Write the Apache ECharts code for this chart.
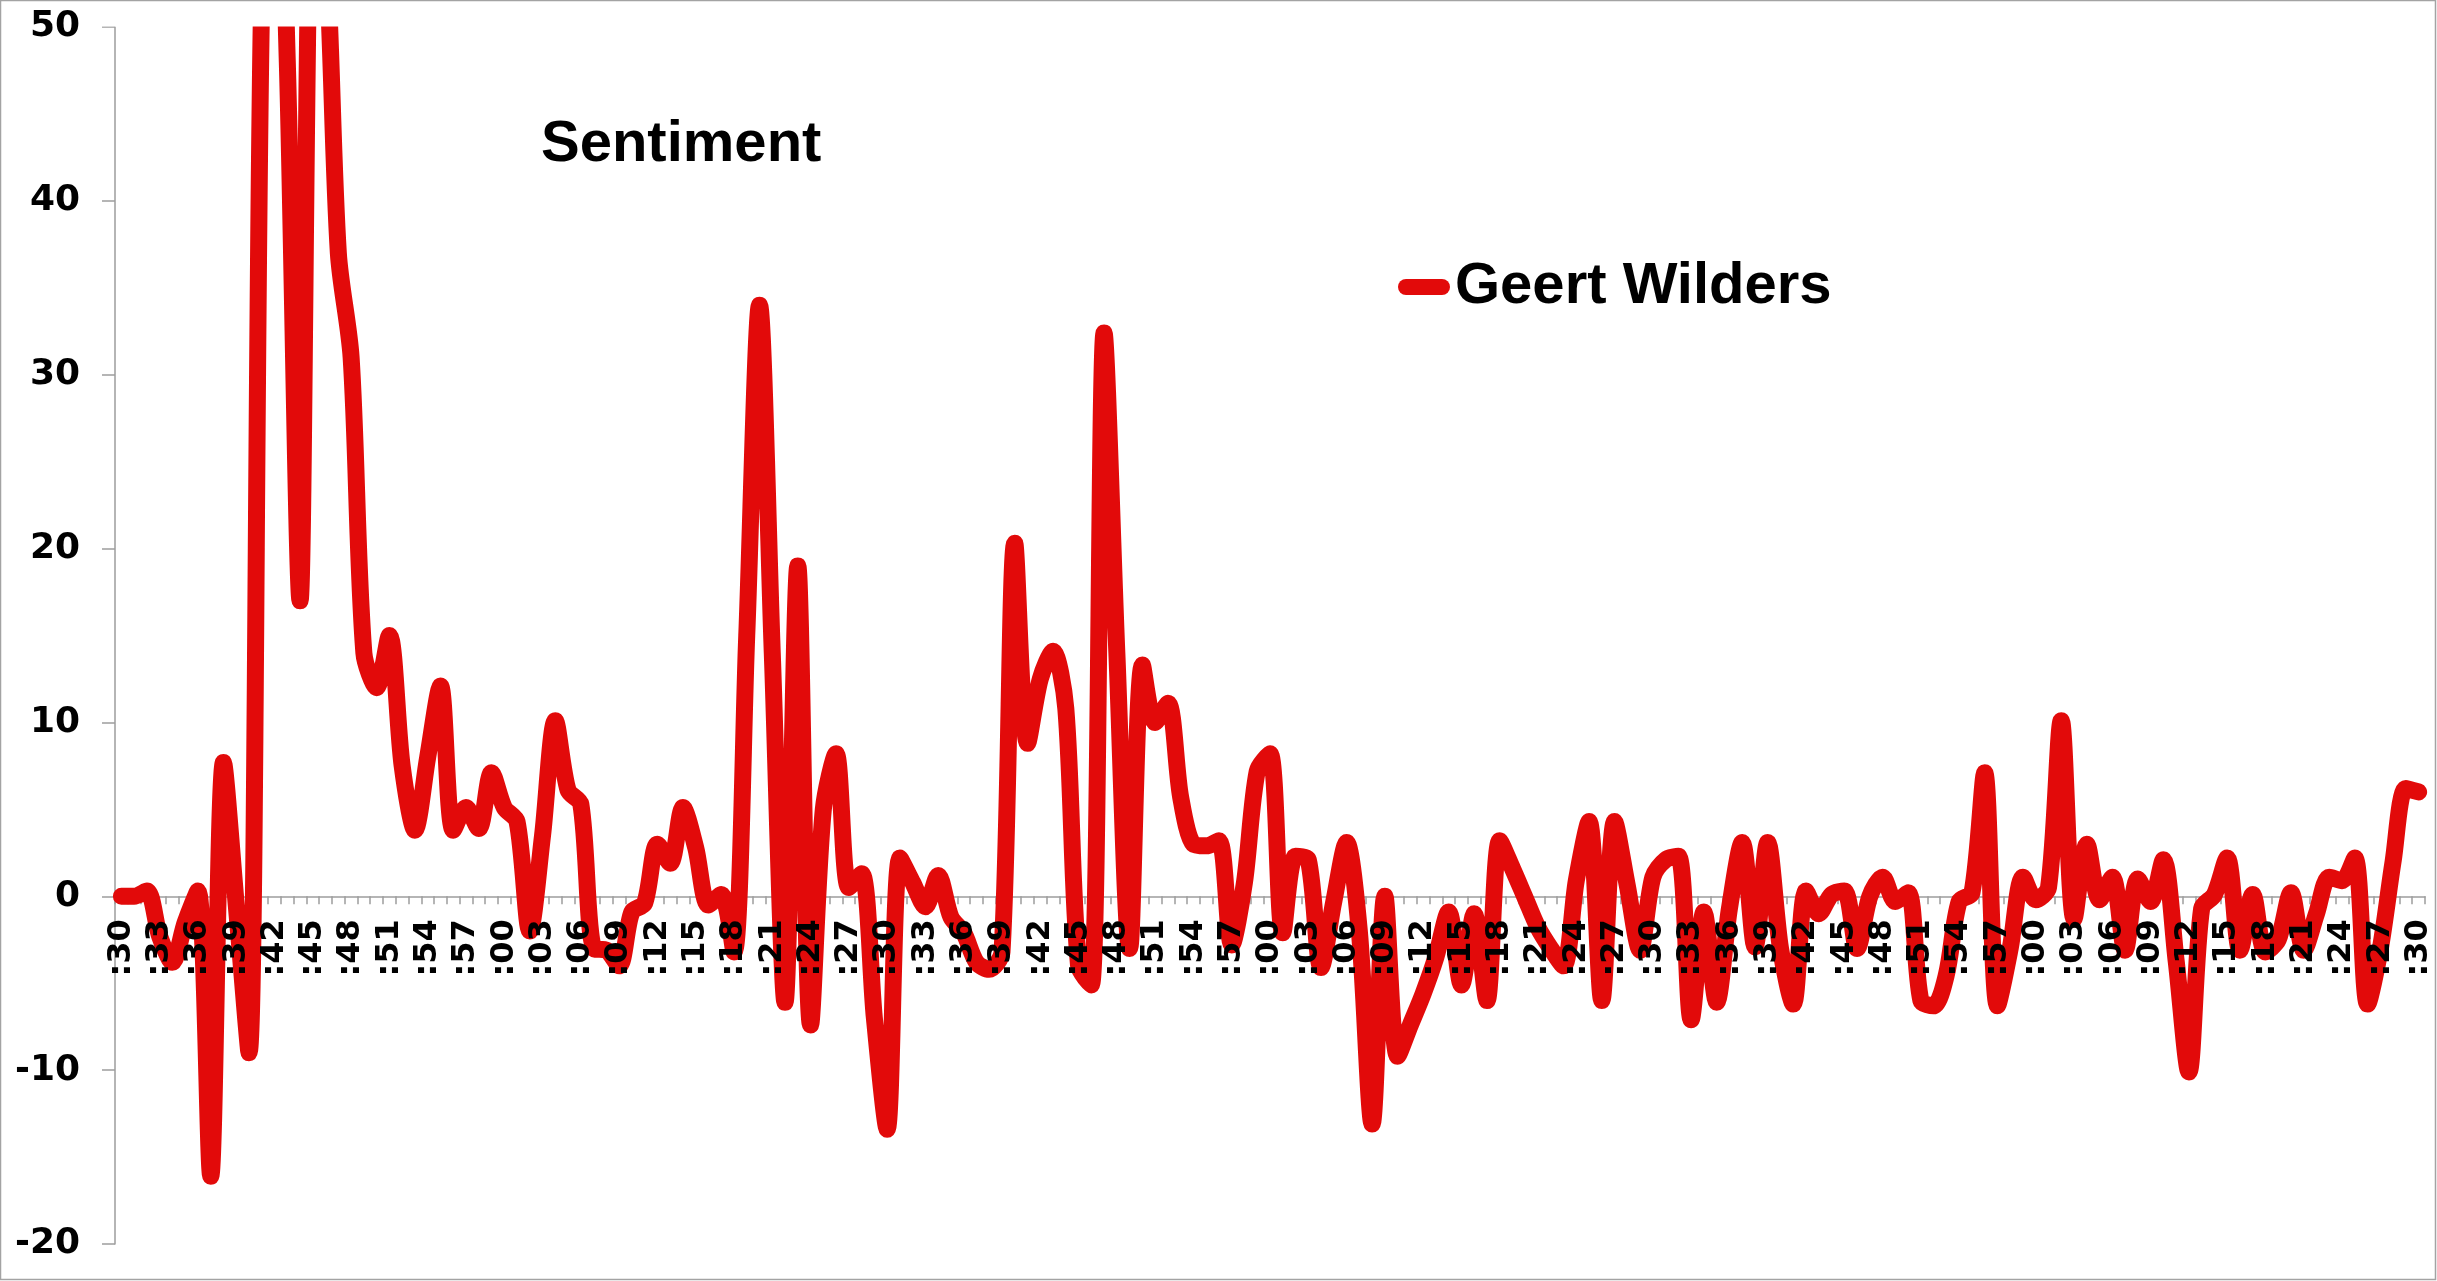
<!DOCTYPE html>
<html>
<head>
<meta charset="utf-8">
<script src="https://cdn.jsdelivr.net/npm/echarts@6/dist/echarts.min.js"></script>
<style>
html,body{margin:0;padding:0;background:#fff;}
#chart{width:2437px;height:1281px;}
</style>
</head>
<body>
<div id="chart"></div>
<script>
// ---- data ----
const titleText = 'Sentiment';
const seriesName = 'Geert Wilders';
const startMinute = 30;           // first category is ":30", one point per minute
const yMin = -20, yMax = 50, yStep = 10;

const sentiment = [
  0, 0, 0.3, -2.3, -3.8, -1.5, 0.3, -16.1, 7.7, -0.5,
  -9.0, 52, 68, 48, 17, 60, 55, 37, 31, 14,
  12, 15, 7.5, 3.8, 8.0, 12.1, 3.8, 5.1, 3.9, 7.1,
  5.1, 4.3, -2.0, 3.5, 10.1, 6.1, 5.3, -3.0, -3.1, -4.0,
  -0.9, -0.4, 3.0, 1.9, 5.1, 2.8, -0.5, 0.1, -3.2, 15,
  34.0, 14, -6.1, 19.0, -7.4, 5.0, 8.2, 0.5, 1.3, -7.0,
  -13.4, 2.2, 0.8, -0.6, 1.2, -1.2, -2.1, -3.8, -4.2, -3.2,
  20.3, 8.8, 12.5, 14.1, 10.8, -4.0, -5.1, 32.4, 14, -3.0,
  13.3, 10.0, 11.1, 5.7, 3.0, 2.9, 3.2, -2.8, 0.8, 7.2,
  8.2, -2.1, 2.3, 2.1, -4.1, -0.3, 3.1, -2.0, -13.1, 0.0,
  -9.2, -7.4, -5.6, -3.5, -0.9, -5.1, -1.0, -6.0, 3.2, 1.6,
  -0.1, -1.8, -3.0, -4.0, 0.9, 4.3, -6.0, 4.3, 0.6, -3.1,
  1.1, 2.1, 2.3, -7.1, -0.9, -6.1, -0.7, 3.1, -2.9, 3.1,
  -3.0, -6.2, 0.3, -1.0, 0.1, 0.3, -3.0, 0.0, 1.1, -0.3,
  0.2, -6.0, -6.3, -4.5, -0.3, 0.2, 7.1, -6.3, -3.0, 1.1,
  -0.2, 0.5, 10.1, -1.3, 3.0, -0.2, 1.1, -3.1, 1.0, -0.3,
  2.1, -3.7, -10.1, -0.7, 0.1, 2.2, -3.1, 0.1, -3.2, -2.5,
  0.2, -3.1, -1.0, 1.1, 0.9, 2.2, -6.2, -3.0, 2.0, 6.2,
  6.0
];

const categories = sentiment.map((_, i) => ':' + String((startMinute + i) % 60).padStart(2, '0'));

// ---- styling / layout ----
const RED = '#e20a0a';
const GREY = '#9d9d9d';
const FONT = '"Liberation Sans", Arial, sans-serif';
const AXIS_FONT = '"DejaVu Sans", sans-serif';
const GRID_TOP = 27, GRID_BOTTOM = 37, H = 1281;
const plotH = H - GRID_TOP - GRID_BOTTOM;
// the label axis sits at the bottom of the grid and is lifted to the zero line
const zeroLift = -plotH * (0 - yMin) / (yMax - yMin);

const chart = echarts.init(document.getElementById('chart'), null, {renderer: 'canvas'});

const option = {
  animation: false,
  backgroundColor: '#ffffff',
  title: {
    text: titleText,
    left: 541,
    top: 116,
    padding: 0,
    textStyle: {fontFamily: FONT, fontWeight: 'bold', fontSize: 58, color: '#000'}
  },
  legend: {
    data: [seriesName],
    left: 1398,
    top: 258,
    padding: 0,
    itemWidth: 52,
    itemHeight: 16,
    icon: 'path://M8 0H44A8 8 0 0 1 44 16H8A8 8 0 0 1 8 0Z',
    textStyle: {fontFamily: FONT, fontWeight: 'bold', fontSize: 58, color: '#000'}
  },
  grid: {left: 115, right: 12, top: GRID_TOP, bottom: GRID_BOTTOM, containLabel: false, outerBoundsMode: 'none'},
  xAxis: [
    {
      type: 'category',
      data: categories,
      boundaryGap: true,
      z: 0,
      axisLine: {show: true, onZero: true, lineStyle: {color: GREY, width: 1.5}},
      axisTick: {show: true, interval: 0, length: 8, lineStyle: {color: GREY, width: 1.5}},
      axisLabel: {show: false},
      splitLine: {show: false}
    },
    {
      type: 'category',
      data: categories,
      position: 'bottom',
      offset: zeroLift,
      boundaryGap: true,
      z: 10,
      axisLine: {show: false, onZero: false},
      axisTick: {show: false},
      splitLine: {show: false},
      axisLabel: {
        show: true, interval: 2, rotate: 90, margin: 23,
        fontFamily: AXIS_FONT, fontWeight: 'bold', fontSize: 32, color: '#000'
      }
    }
  ],
  yAxis: {
    type: 'value',
    min: yMin, max: yMax, interval: yStep,
    axisLine: {show: true, lineStyle: {color: GREY, width: 1.5}},
    axisTick: {show: true, length: 13, lineStyle: {color: GREY, width: 1.5}},
    splitLine: {show: false},
    axisLabel: {margin: 35, fontFamily: AXIS_FONT, fontWeight: 'bold', fontSize: 36, color: '#000'}
  },
  series: [{
    name: seriesName,
    type: 'line',
    xAxisIndex: 0,
    data: sentiment,
    smooth: 0.3,
    symbol: 'none',
    showSymbol: false,
    lineStyle: {color: RED, width: 17, cap: 'round', join: 'round'},
    itemStyle: {color: RED},
    emphasis: {disabled: true}
  }],
  graphic: [
    {type: 'rect', z: 100, silent: true, shape: {x: 100, y: 2, width: 2334, height: 24.5}, style: {fill: '#ffffff'}},
    {type: 'rect', z: 101, silent: true, shape: {x: 0.5, y: 0.5, width: 2435, height: 1279}, style: {fill: 'none', stroke: '#a3a3a3', lineWidth: 1.5}}
  ]
};
chart.setOption(option);
</script>
</body>
</html>
